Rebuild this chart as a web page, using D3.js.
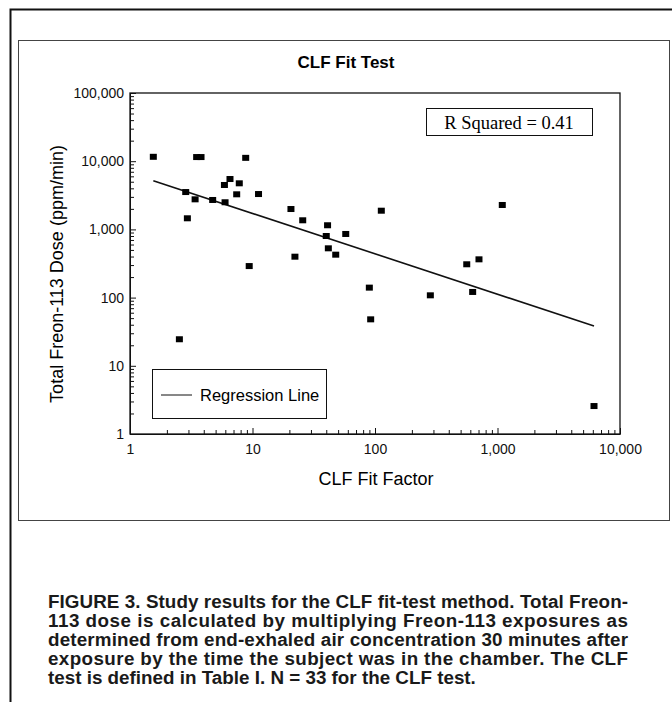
<!DOCTYPE html>
<html>
<head>
<meta charset="utf-8">
<script src="https://cdnjs.cloudflare.com/ajax/libs/d3/7.8.5/d3.min.js"></script>
<style>
  html, body { margin: 0; padding: 0; background: #fff; }
  svg { display: block; }
</style>
</head>
<body>
<svg id="chart" width="672" height="702"></svg>
<script>
// CLF fit factor vs total Freon-113 dose
const fitFactor = [1.55, 3.5, 3.8, 8.8, 2.85, 3.4, 4.73, 5.97, 5.9, 6.55, 7.8, 7.43, 11.2, 2.94, 20.6, 25.7, 41, 40, 41.6, 22.2, 9.4, 57.7, 47.8, 112.6, 89.9, 283, 561, 706, 627, 1094, 2.53, 92.2, 6135];
const dose = [11600, 11500, 11500, 11200, 3530, 2760, 2700, 2500, 4480, 5480, 4740, 3270, 3300, 1455, 1990, 1360, 1150, 800, 528, 398, 290, 857, 426, 1880, 140, 108, 308, 364, 121, 2280, 24.5, 48, 2.57];
const regressionX = [1.55, 6135];
const regressionY = [5180, 38.3];
const xTicks = [1, 10, 100, 1000, 10000];
const yTicks = [1, 10, 100, 1000, 10000, 100000];
const captionLines = [
  "FIGURE 3. Study results for the CLF fit-test method. Total Freon-",
  "113 dose is calculated by multiplying Freon-113 exposures as",
  "determined from end-exhaled air concentration 30 minutes after",
  "exposure by the time the subject was in the chamber. The CLF",
  "test is defined in Table I. N = 33 for the CLF test."
];

const svg = d3.select("#chart");
const plot = { left: 130, right: 620, top: 93, bottom: 434 };
const sans = "'Liberation Sans', Arial, sans-serif";

const x = d3.scaleLog().domain([1, 10000]).range([plot.left, plot.right]);
const y = d3.scaleLog().domain([1, 100000]).range([plot.bottom, plot.top]);

// frames
svg.append("path")
  .attr("d", "M10.5,702 V9.5 H672")
  .attr("fill", "none").attr("stroke", "#111").attr("stroke-width", 2);
svg.append("rect")
  .attr("x", 18.5).attr("y", 40.5).attr("width", 651).attr("height", 480)
  .attr("fill", "none").attr("stroke", "#444").attr("stroke-width", 1);

// title
svg.append("text")
  .attr("x", 346).attr("y", 68)
  .attr("text-anchor", "middle")
  .attr("font-family", sans).attr("font-size", 17).attr("font-weight", "bold")
  .text("CLF Fit Test");

// minor ticks for each decade
const minor = (lo, hi) => d3.range(Math.log10(lo), Math.log10(hi)).flatMap((e) =>
  d3.range(2, 10).map((m) => m * Math.pow(10, e)));

const fmt = d3.format(",");

svg.append("g").attr("transform", `translate(0,${plot.bottom})`)
  .call(d3.axisBottom(x).tickValues(xTicks).tickFormat(fmt).tickSizeInner(-6).tickSizeOuter(0).tickPadding(10));
svg.append("g").attr("transform", `translate(0,${plot.bottom})`)
  .call(d3.axisBottom(x).tickValues(minor(1, 10000)).tickFormat("").tickSizeInner(-4).tickSizeOuter(0))
  .call((g) => g.select(".domain").remove());

svg.append("g").attr("transform", `translate(${plot.left},0)`)
  .call(d3.axisLeft(y).tickValues(yTicks).tickFormat(fmt).tickSizeInner(-6).tickSizeOuter(0).tickPadding(6));
svg.append("g").attr("transform", `translate(${plot.left},0)`)
  .call(d3.axisLeft(y).tickValues(minor(1, 100000)).tickFormat("").tickSizeInner(-4).tickSizeOuter(0))
  .call((g) => g.select(".domain").remove());

svg.selectAll(".tick text").attr("font-family", sans).attr("font-size", 14).attr("fill", "#111");
svg.selectAll(".tick line, .domain").attr("stroke", "#111");

// plot box
svg.append("rect")
  .attr("x", plot.left).attr("y", plot.top)
  .attr("width", plot.right - plot.left).attr("height", plot.bottom - plot.top)
  .attr("fill", "none").attr("stroke", "#111").attr("stroke-width", 1.3);

// axis titles
svg.append("text")
  .attr("x", 376).attr("y", 485)
  .attr("text-anchor", "middle")
  .attr("font-family", sans).attr("font-size", 18)
  .text("CLF Fit Factor");
svg.append("text")
  .attr("transform", "translate(63,274) rotate(-90)")
  .attr("text-anchor", "middle")
  .attr("font-family", sans).attr("font-size", 18)
  .text("Total Freon-113 Dose (ppm/min)");

// regression line
svg.append("line")
  .attr("x1", x(regressionX[0])).attr("y1", y(regressionY[0]))
  .attr("x2", x(regressionX[1])).attr("y2", y(regressionY[1]))
  .attr("stroke", "#111").attr("stroke-width", 1.6);

// points
const pts = fitFactor.map((f, i) => ({ f, d: dose[i] }));
svg.append("g").selectAll("rect")
  .data(pts)
  .join("rect")
  .attr("x", (d) => x(d.f) - 3.5)
  .attr("y", (d) => y(d.d) - 3)
  .attr("width", 7).attr("height", 6)
  .attr("fill", "#000");

// R squared box
svg.append("rect")
  .attr("x", 426.5).attr("y", 108.5).attr("width", 166).attr("height", 27)
  .attr("fill", "#fff").attr("stroke", "#111");
svg.append("text")
  .attr("x", 509).attr("y", 128.5)
  .attr("text-anchor", "middle")
  .attr("font-family", "'Liberation Serif', 'Times New Roman', serif").attr("font-size", 18.5)
  .text("R Squared = 0.41");

// legend
svg.append("rect")
  .attr("x", 152.5).attr("y", 369.5).attr("width", 174).attr("height", 49)
  .attr("fill", "#fff").attr("stroke", "#111");
svg.append("line")
  .attr("x1", 161).attr("x2", 192).attr("y1", 395).attr("y2", 395)
  .attr("stroke", "#111").attr("stroke-width", 1);
svg.append("text")
  .attr("x", 200).attr("y", 401)
  .attr("font-family", sans).attr("font-size", 16.5)
  .text("Regression Line");

// caption: condensed bold, justified except the last line
const capWidth = 580;
const cap = svg.append("g")
  .attr("font-family", sans)
  .attr("font-weight", "bold").attr("font-size", 18.5).attr("fill", "#1a1a1a");
const capTexts = captionLines.map((line, i) =>
  cap.append("text").attr("y", 608 + i * 19).text(line));
// squeeze horizontally so the longest line sets naturally at the column width
const natural = d3.max(capTexts, (t) => t.node().getComputedTextLength());
const squeeze = (capWidth - 4) / natural;
cap.attr("transform", `scale(${squeeze},1)`);
capTexts.forEach((t, i) => {
  t.attr("x", 48 / squeeze);
  if (i < captionLines.length - 1) t.attr("textLength", capWidth / squeeze).attr("lengthAdjust", "spacing");
});
</script>
</body>
</html>
